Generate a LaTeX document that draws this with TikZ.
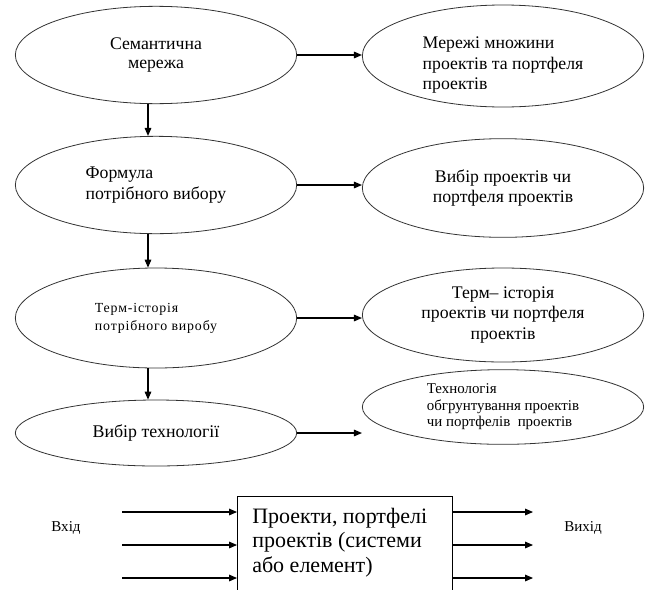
\documentclass[tikz,border=0pt]{standalone}
\usepackage{fontspec}
\setmainfont{Liberation Serif}
\usetikzlibrary{shapes.geometric,arrows.meta,positioning}

\begin{document}
\begin{tikzpicture}[
    x=0.75pt, y=-0.75pt,
    oval/.style={
        ellipse,
        draw=black!80,
        line width=0.6pt,
        inner sep=0pt,
        minimum width=211pt,
        align=center,
        font=\fontsize{13.3}{15.4}\selectfont
    },
    ovaltext/.style={align=left, inner sep=0pt, font=\fontsize{13.3}{15.4}\selectfont},
    smalltext/.style={font=\fontsize{11.2}{12.4}\selectfont},
    spacedtext/.style={font=\fontsize{10.4}{13.5}\selectfont\addfontfeature{LetterSpace=6}},
    system/.style={
        rectangle,
        draw=black,
        line width=0.8pt,
        minimum width=161.25pt,
        minimum height=90pt
    },
    systemtext/.style={
        align=left,
        inner sep=0pt,
        font=\fontsize{16.5}{18.4}\selectfont
    },
    arrow/.style={-{Triangle[length=6pt,width=5pt]}, line width=0.8pt},
    labeltext/.style={font=\fontsize{11.3}{13}\selectfont}
]
\useasboundingbox (0,0) rectangle (648,589);
\clip (0,0) rectangle (648,589);

% Left column
\node[oval, minimum height=73pt, font=\fontsize{13.3}{14.3}\selectfont] (semnet) at (156,55) {Семантична\\мережа};
\node[oval, minimum height=73pt, align=left] (formula) at (156,185) {Формула\\потрібного вибору};
\node[oval, minimum height=75pt, align=left, spacedtext] (termhist) at (156,318) {Терм-історія\\потрібного виробу};
\node[oval, minimum height=49.5pt, font=\fontsize{13.4}{15}\selectfont] (techsel) at (156,433) {Вибір технології};

% Right column
\node[oval, minimum height=76.5pt,
      label={[ovaltext, yshift=-7pt]center:Мережі множини\\проектів та портфеля\\проектів}] (netsets) at (503,56) {};
\node[oval, minimum height=74pt] (projsel) at (503,188) {Вибір проектів чи\\портфеля проектів};
\node[oval, minimum height=70.5pt] (projhist) at (503,315) {Терм– історія\\проектів чи портфеля\\проектів};
\node[oval, minimum height=56pt, align=left, smalltext] (techjust) at (503,407) {Технологія\\обгрунтування проектів\\чи портфелів\ \ проектів};

% Vertical flow
\draw[arrow] ([xshift=-6pt]semnet.south) -- ([xshift=-6pt]formula.north);
\draw[arrow] ([xshift=-6pt]formula.south) -- ([xshift=-6pt]termhist.north);
\draw[arrow] ([xshift=-6pt]termhist.south) -- ([xshift=-6pt]techsel.north);

% Horizontal flow
\draw[arrow] (semnet.east) -- (semnet.east -| netsets.west);
\draw[arrow] (formula.east) -- (formula.east -| projsel.west);
\draw[arrow] (termhist.east) -- (termhist.east -| projhist.west);
\draw[arrow] (techsel.east) -- (techsel.east -| techjust.west);

% System block
\node[system, anchor=north west] (system) at (237,496) {};
\node[systemtext, anchor=north west] (systemtext) at (252,507.5) {Проекти, портфелі\\проектів (системи\\або елемент)};

\coordinate (in1) at (122,512);
\coordinate (in2) at (122,545);
\coordinate (in3) at (122,578);
\coordinate (out1) at (533,512);
\coordinate (out2) at (533,545);
\coordinate (out3) at (533,578);

\foreach \i in {1,2,3} {
    \draw[arrow] (in\i) -- (in\i -| system.west);
    \draw[arrow] (system.east |- out\i) -- (out\i);
}

\node[labeltext] (inlabel) at (66,528) {Вхід};
\node[labeltext] (outlabel) at (583,528) {Вихід};

\end{tikzpicture}
\end{document}
